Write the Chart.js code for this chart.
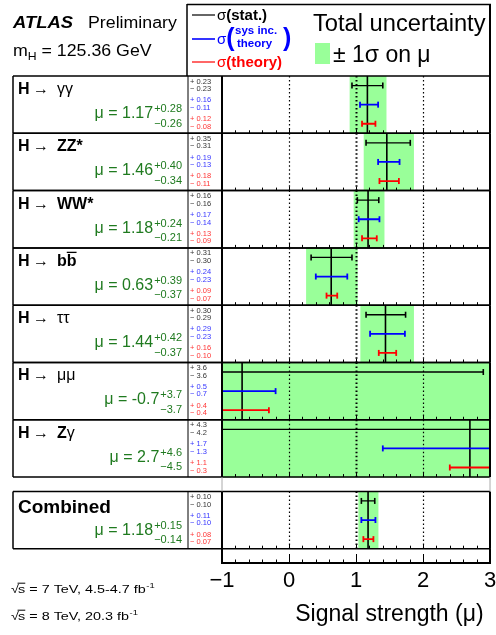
<!DOCTYPE html>
<html lang="en">
<head>
<meta charset="UTF-8">
<title>Higgs signal strength</title>
<script src="https://cdn.jsdelivr.net/npm/chart.js"></script>
<style>
  html, body { margin: 0; padding: 0; background: #fff; overflow: hidden; }
  #muChart { display: block; }
</style>
</head>
<body>
<canvas id="muChart" width="496" height="635"></canvas>
<script>
// channels, top to bottom (last one is the combination)
const channels = ['γγ', 'ZZ*', 'WW*', 'bb', 'ττ', 'μμ', 'Zγ', 'Combined'];
const mu     = [1.17, 1.46, 1.18, 0.63, 1.44, -0.7, 2.7, 1.18];
const totUp  = [0.28, 0.40, 0.24, 0.39, 0.42, 3.7, 4.6, 0.15];
const totDn  = [0.26, 0.34, 0.21, 0.37, 0.37, 3.7, 4.5, 0.14];
const statUp = [0.23, 0.35, 0.16, 0.31, 0.30, 3.6, 4.3, 0.10];
const statDn = [0.23, 0.31, 0.16, 0.30, 0.29, 3.6, 4.2, 0.10];
const sysUp  = [0.16, 0.19, 0.17, 0.24, 0.29, 0.5, 1.7, 0.11];
const sysDn  = [0.11, 0.13, 0.14, 0.23, 0.23, 0.7, 1.3, 0.10];
const thUp   = [0.12, 0.18, 0.13, 0.09, 0.16, 0.4, 1.1, 0.08];
const thDn   = [0.08, 0.11, 0.09, 0.07, 0.10, 0.4, 0.3, 0.07];
const prec   = [2, 2, 2, 2, 2, 1, 1, 2];
const xTicks = [-1, 0, 1, 2, 3];

const FONT = '"Liberation Sans", Arial, Helvetica, sans-serif';
const BAND = '#99ff99';
const MUGREEN = '#1f7a1f';

// Combined row sits a bit lower than the others
const rowTop = i => (i < 7 ? i : i + 0.25);

function errorLine(up, dn, frac) {
  const pts = [];
  mu.forEach((m, i) => {
    const y = rowTop(i) + frac;
    pts.push({x: m - dn[i], y: y}, {x: m + up[i], y: y}, {x: null, y: null});
  });
  return pts;
}

const muLine = [];
mu.forEach((m, i) => muLine.push({x: m, y: rowTop(i)}, {x: m, y: rowTop(i) + 1}, {x: null, y: null}));

const atlasLayout = {
  id: 'atlasLayout',
  // dotted lines go on top of the green band, under the error bars
  afterDatasetDraw(chart, args) {
    if (args.index !== 0) return;
    const {ctx, scales: {x, y}} = chart;
    ctx.save();
    ctx.strokeStyle = '#000';
    ctx.setLineDash([1.5, 2.5]);
    mu.forEach((m, i) => {
      const top = y.getPixelForValue(rowTop(i)), bot = y.getPixelForValue(rowTop(i) + 1);
      xTicks.slice(1, -1).forEach(v => {
        const px = Math.round(x.getPixelForValue(v)) + 0.5;
        ctx.lineWidth = v === 1 ? 2 : 1.2;
        ctx.beginPath(); ctx.moveTo(px, top); ctx.lineTo(px, bot); ctx.stroke();
      });
    });
    ctx.restore();
  },
  afterDraw(chart) {
    const {ctx, scales: {x, y}} = chart;
    const X0 = x.left, X1 = x.right, L = 13, SPLIT = 188, LEG = 187;
    ctx.save();
    const seg = (x1, y1, x2, y2, w, c) => {
      ctx.strokeStyle = c || '#000'; ctx.lineWidth = w;
      ctx.beginPath(); ctx.moveTo(x1, y1); ctx.lineTo(x2, y2); ctx.stroke();
    };
    // sx stretches the text sideways (the original is a bit wider than tall)
    const put = (s, px, py, font, color, align, sx) => {
      sx = sx || 1;
      ctx.font = font; ctx.fillStyle = color || '#000';
      ctx.textAlign = align || 'left'; ctx.textBaseline = 'alphabetic';
      ctx.save();
      ctx.translate(px, py); ctx.scale(sx, 1);
      ctx.fillText(s, 0, 0);
      ctx.restore();
      return ctx.measureText(s).width * sx;
    };
    const minorTicks = (bot, minor, major) => {
      for (let k = 0; k <= 20; k++) {
        const v = x.min + k * 0.2;
        const px = Math.round(x.getPixelForValue(v)) + 0.5;
        seg(px, bot, px, bot - (k % 5 === 0 ? major : minor), 1);
      }
    };

    // row boxes
    mu.forEach((m, i) => {
      const top = y.getPixelForValue(rowTop(i)), bot = y.getPixelForValue(rowTop(i) + 1);
      minorTicks(bot, 3, 4);
      seg(L, top, X1, top, 1.5); seg(L, bot, X1, bot, 1.5);
      seg(L, top, L, bot, 1.5); seg(SPLIT, top, SPLIT, bot, 1);
      seg(X0, top, X0, bot, 2); seg(X1, top, X1, bot, 2);

      // channel label
      if (i < 7) {
        put('H', 18, top + 18, `bold 16px ${FONT}`);
        put('\u2192', 33, top + 18, `16px ${FONT}`);
        let cx = 57;
        if (channels[i] === 'Zγ') {
          cx += put('Z', cx, top + 18, `bold 16px ${FONT}`);
          put('γ', cx, top + 18, `16px ${FONT}`);
        } else if (channels[i] === 'bb') {
          const w = put('b', cx, top + 18, `bold 16px ${FONT}`);
          put('b', cx + w, top + 18, `bold 16px ${FONT}`);
          seg(cx + w, top + 4.5, cx + 2 * w, top + 4.5, 1.3);
        } else {
          const bold = channels[i].indexOf('*') > 0;
          put(channels[i], cx, top + 18, `${bold ? 'bold ' : ''}16px ${FONT}`);
        }
      } else {
        put(channels[i], 18, top + 22, `bold 19px ${FONT}`);
      }

      // mu value with asymmetric total uncertainty
      const sup = '+' + totUp[i].toFixed(prec[i]);
      const sub = '\u2212' + totDn[i].toFixed(prec[i]);
      const off = i < 7 ? 0 : 1.5;
      ctx.font = `11px ${FONT}`;
      const sw = Math.max(ctx.measureText(sup).width, ctx.measureText(sub).width);
      put(sup, 182, top + 36 + off, `11px ${FONT}`, MUGREEN, 'right');
      put(sub, 182, top + 50.5 + off, `11px ${FONT}`, MUGREEN, 'right');
      put('\u03bc = ' + mu[i].toFixed(prec[i]), 181 - sw, top + 42 + off, `16px ${FONT}`, MUGREEN, 'right');

      // breakdown column
      const f = `7.5px ${FONT}`;
      const col = [['#333', statUp, statDn, 0], ['#3535ff', sysUp, sysDn, 18.8], ['#ff3535', thUp, thDn, 37.7]];
      col.forEach(([c, up, dn, dy]) => {
        put('+ ' + up[i].toFixed(prec[i]), 190, top + 7.5 + dy, f, c);
        put('\u2212 ' + dn[i].toFixed(prec[i]), 190, top + 15.2 + dy, f, c);
      });
    });

    // gap between Z-gamma and the combination
    const g0 = y.getPixelForValue(7), g1 = y.getPixelForValue(7.25);
    seg(X0, g0, X0, g1, 1, '#aaa'); seg(X1, g0, X1, g1, 1, '#aaa');

    // axis strip below the combination
    const s0 = y.getPixelForValue(8.25), s1 = y.getPixelForValue(8.5);
    seg(X0, s0, X0, s1, 2); seg(X1, s0, X1, s1, 2); seg(X0 - 1, s1, X1 + 1, s1, 2);
    minorTicks(s1, 3.5, 9);

    // legend box
    seg(LEG, 4.5, X1 + 1, 4.5, 1.5); seg(LEG, 4, LEG, 76, 1.5); seg(X1, 4, X1, 76, 2);
    seg(192, 15, 215, 15, 1.2, '#000');
    let w = put('\u03c3', 217, 20, `15px ${FONT}`, '#000');
    put('(stat.)', 217 + w, 20, `bold 15px ${FONT}`, '#000');
    seg(192, 39, 215, 39, 1.6, '#0000ff');
    w = put('\u03c3', 217, 44, `15px ${FONT}`, '#0000ff');
    put('(', 217 + w, 46, `bold 25px ${FONT}`, '#0000ff');
    put('sys inc.', 235, 34, `bold 11.5px ${FONT}`, '#0000ff');
    put('theory', 237, 47, `bold 11.5px ${FONT}`, '#0000ff');
    put(')', 283, 46, `bold 25px ${FONT}`, '#0000ff');
    seg(192, 62, 215, 62, 1.2, '#ff0000');
    w = put('\u03c3', 217, 67, `15px ${FONT}`, '#ff0000');
    put('(theory)', 217 + w, 67, `bold 15px ${FONT}`, '#ff0000');
    put('Total uncertainty', 313, 31, `23px ${FONT}`, '#000', 'left', 1.03);
    ctx.fillStyle = BAND; ctx.fillRect(315, 43, 15, 21);
    put('\u00b1 1\u03c3 on \u03bc', 333, 62, `23px ${FONT}`, '#000');

    // top-left labels
    put('ATLAS', 13, 28, `italic bold 16px ${FONT}`, '#000', 'left', 1.15);
    put('Preliminary', 88, 28, `16px ${FONT}`, '#000', 'left', 1.11);
    w = put('m', 13, 56, `16px ${FONT}`, '#000', 'left', 1.11);
    const hw = put('H', 13 + w, 60, `11px ${FONT}`, '#000', 'left', 1.11);
    put(' = 125.36 GeV', 13 + w + hw, 56, `16px ${FONT}`, '#000', 'left', 1.11);

    // energies / luminosities
    const lumi = [['7 TeV, 4.5-4.7 fb', 593], ['8 TeV, 20.3 fb', 620]];
    lumi.forEach(([s, by]) => {
      let px = 11;
      px += put('\u221a', px, by, `11.5px ${FONT}`, '#000', 'left', 1.25) - 0.8;
      const sw2 = put('s', px, by, `11.5px ${FONT}`, '#000', 'left', 1.25);
      seg(px - 0.5, by - 9.8, px + sw2, by - 9.8, 1);
      px += sw2;
      px += put(' = ' + s, px, by, `11.5px ${FONT}`, '#000', 'left', 1.25);
      put('-1', px + 0.5, by - 5, `7.5px ${FONT}`, '#000', 'left', 1.25);
    });
    ctx.restore();
  }
};

new Chart(document.getElementById('muChart'), {
  type: 'bar',
  data: {
    datasets: [
      {
        type: 'bar', label: 'total', indexAxis: 'y',
        data: mu.map((m, i) => ({x: [m - totDn[i], m + totUp[i]], y: rowTop(i) + 0.5})),
        backgroundColor: BAND, borderWidth: 0, barPercentage: 1, categoryPercentage: 1,
        clip: 0, order: 5
      },
      {
        type: 'line', label: 'mu', data: muLine,
        borderColor: '#000', borderWidth: 1.6, pointRadius: 0, clip: 0, order: 4
      },
      {
        type: 'line', label: 'stat', data: errorLine(statUp, statDn, 1 / 6),
        borderColor: '#000', borderWidth: 1.3, pointStyle: 'line', rotation: 90,
        pointRadius: 3, pointBorderWidth: 1.6, pointBorderColor: '#000', clip: 0, order: 3
      },
      {
        type: 'line', label: 'sys', data: errorLine(sysUp, sysDn, 0.5),
        borderColor: '#0000ff', borderWidth: 1.8, pointStyle: 'line', rotation: 90,
        pointRadius: 3, pointBorderWidth: 1.8, pointBorderColor: '#0000ff', clip: 0, order: 2
      },
      {
        type: 'line', label: 'theory', data: errorLine(thUp, thDn, 5 / 6),
        borderColor: '#ff0000', borderWidth: 1.8, pointStyle: 'line', rotation: 90,
        pointRadius: 3, pointBorderWidth: 1.8, pointBorderColor: '#ff0000', clip: 0, order: 1
      }
    ]
  },
  options: {
    responsive: false,
    animation: false,
    devicePixelRatio: 1,
    layout: { autoPadding: false, padding: { left: 222, right: 6, top: 76, bottom: 5.6 } },
    plugins: { legend: { display: false }, tooltip: { enabled: false } },
    scales: {
      x: {
        type: 'linear', min: xTicks[0], max: xTicks[xTicks.length - 1], offset: false,
        grid: { display: false, drawTicks: false },
        border: { display: false },
        afterBuildTicks: s => { s.ticks = xTicks.map(v => ({value: v})); },
        afterFit: s => { s.paddingLeft = 0; s.paddingRight = 0; },
        ticks: {
          padding: 7, color: '#000', font: { family: FONT, size: 22, lineHeight: 1 },
          callback: v => String(v).replace('-', '\u2212')
        },
        title: {
          display: true, text: 'Signal strength (\u03bc)\u00a0', align: 'end', color: '#000',
          font: { family: FONT, size: 23, lineHeight: 0.8 }, padding: { top: 6.8, bottom: 5.2 }
        }
      },
      y: {
        type: 'linear', min: 0, max: 8.5, reverse: true, offset: false, display: false,
        ticks: { count: 2 }
      }
    }
  },
  plugins: [atlasLayout]
});
</script>
</body>
</html>
